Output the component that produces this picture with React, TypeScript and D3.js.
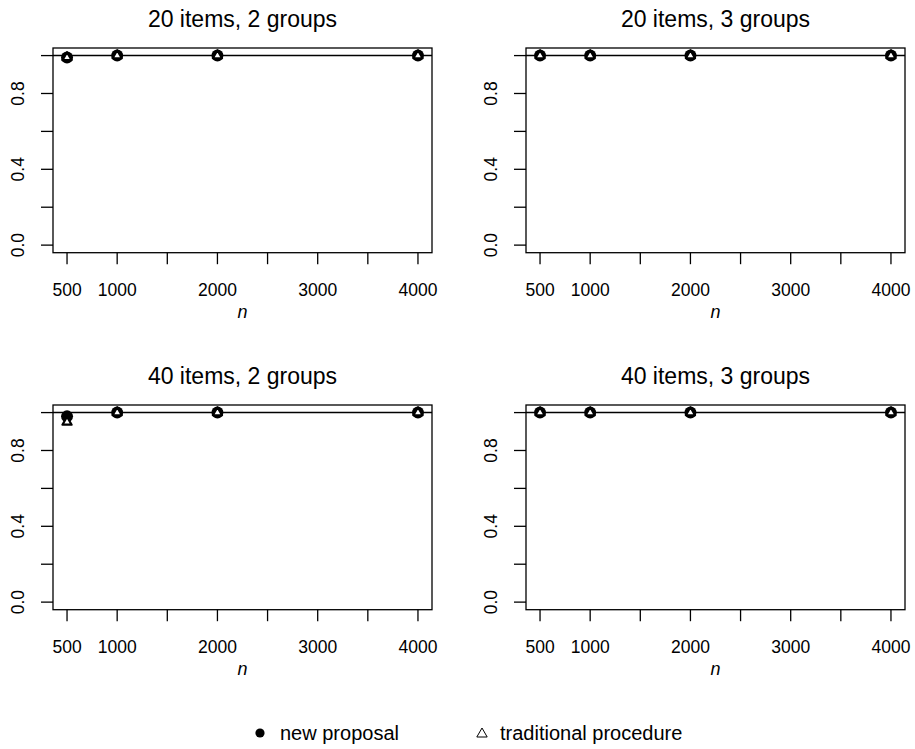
import React, { useEffect, useRef } from "react";
import * as d3 from "d3";

// sample sizes on the x axis
const sampleSizes = [500, 1000, 2000, 4000];
const xTicks = [500, 1000, 1500, 2000, 2500, 3000, 3500, 4000];
const xTickLabels = [500, 1000, 2000, 3000, 4000];
const yTicks = [0, 0.2, 0.4, 0.6, 0.8, 1.0];
const yTickLabels = [0, 0.4, 0.8];

const panelTitles = [
  "20 items, 2 groups",
  "20 items, 3 groups",
  "40 items, 2 groups",
  "40 items, 3 groups",
];

// values per panel, same order as panelTitles
const newProposal = [
  [0.99, 1.0, 1.0, 1.0],
  [1.0, 1.0, 1.0, 1.0],
  [0.98, 1.0, 1.0, 1.0],
  [1.0, 1.0, 1.0, 1.0],
];
const traditional = [
  [0.99, 1.0, 1.0, 1.0],
  [1.0, 1.0, 1.0, 1.0],
  [0.95, 1.0, 1.0, 1.0],
  [1.0, 1.0, 1.0, 1.0],
];

const legendLabels = ["new proposal", "traditional procedure"];

const W = 915;
const H = 749;
const FONT = "'Liberation Sans', Arial, Helvetica, sans-serif";

function triPath(cx, cy, r) {
  // R style pch 2 triangle, r = circumradius
  const xc = r * 0.866;
  return `M${cx},${cy - r}L${cx + xc},${cy + r / 2}L${cx - xc},${cy + r / 2}Z`;
}

export default function App() {
  const ref = useRef(null);

  useEffect(() => {
    const svg = d3.select(ref.current);
    svg.selectAll("*").remove();

    const boxW = 379;
    const boxH = 204.7;
    const offsets = [
      [53, 48],
      [526, 48],
      [53, 405],
      [526, 405],
    ];

    panelTitles.forEach((title, p) => {
      const [ox, oy] = offsets[p];
      const x = d3.scaleLinear().domain([360, 4140]).range([ox, ox + boxW]);
      const y = d3.scaleLinear().domain([-0.04, 1.04]).range([oy + boxH, oy]);
      const g = svg.append("g");

      // title
      g.append("text")
        .attr("x", ox + boxW / 2)
        .attr("y", oy - 21)
        .attr("text-anchor", "middle")
        .attr("font-size", 23)
        .text(title);

      // box
      g.append("rect")
        .attr("x", ox)
        .attr("y", oy)
        .attr("width", boxW)
        .attr("height", boxH)
        .attr("fill", "none")
        .attr("stroke", "black")
        .attr("stroke-width", 1.3);

      // x ticks
      g.selectAll(".xt")
        .data(xTicks)
        .enter()
        .append("line")
        .attr("x1", (d) => x(d))
        .attr("x2", (d) => x(d))
        .attr("y1", oy + boxH)
        .attr("y2", oy + boxH + 11.5)
        .attr("stroke", "black")
        .attr("stroke-width", 1.3);
      g.selectAll(".xl")
        .data(xTickLabels)
        .enter()
        .append("text")
        .attr("x", (d) => x(d))
        .attr("y", oy + boxH + 43.5)
        .attr("text-anchor", "middle")
        .attr("font-size", 17.5)
        .text((d) => d);
      g.append("text")
        .attr("x", ox + boxW / 2)
        .attr("y", oy + boxH + 65.5)
        .attr("text-anchor", "middle")
        .attr("font-size", 18)
        .attr("font-style", "italic")
        .text("n");

      // y ticks
      g.selectAll(".yt")
        .data(yTicks)
        .enter()
        .append("line")
        .attr("x1", ox - 12)
        .attr("x2", ox)
        .attr("y1", (d) => y(d))
        .attr("y2", (d) => y(d))
        .attr("stroke", "black")
        .attr("stroke-width", 1.3);
      g.selectAll(".yl")
        .data(yTickLabels)
        .enter()
        .append("text")
        .attr("transform", (d) => `translate(${ox - 29.5},${y(d)}) rotate(-90)`)
        .attr("text-anchor", "middle")
        .attr("font-size", 17.5)
        .text((d) => d.toFixed(1));

      // reference line at 1
      g.append("line")
        .attr("x1", ox)
        .attr("x2", ox + boxW)
        .attr("y1", y(1))
        .attr("y2", y(1))
        .attr("stroke", "black")
        .attr("stroke-width", 1.5);

      // new proposal: filled dots
      g.selectAll(".dot")
        .data(newProposal[p])
        .enter()
        .append("circle")
        .attr("cx", (d, i) => x(sampleSizes[i]))
        .attr("cy", (d) => y(d))
        .attr("r", 6)
        .attr("fill", "black");

      // traditional: triangles
      g.selectAll(".tri")
        .data(traditional[p])
        .enter()
        .append("path")
        .attr("d", (d, i) => triPath(x(sampleSizes[i]), y(d), 5.3))
        .attr("fill", "white")
        .attr("stroke", "black")
        .attr("stroke-width", 2.2)
        .attr("stroke-linejoin", "round");
    });

    // legend
    const lg = svg.append("g");
    lg.append("circle").attr("cx", 260).attr("cy", 733).attr("r", 4.6).attr("fill", "black");
    lg.append("text")
      .attr("x", 280)
      .attr("y", 740)
      .attr("font-size", 20)
      .text(legendLabels[0]);
    lg.append("path")
      .attr("d", triPath(482, 734, 6))
      .attr("fill", "none")
      .attr("stroke", "black")
      .attr("stroke-width", 1);
    lg.append("text")
      .attr("x", 500)
      .attr("y", 740)
      .attr("font-size", 20)
      .text(legendLabels[1]);
  }, []);

  return (
    <svg
      ref={ref}
      width={W}
      height={H}
      style={{ position: "absolute", left: 0, top: 0, background: "white", fontFamily: FONT }}
    />
  );
}
